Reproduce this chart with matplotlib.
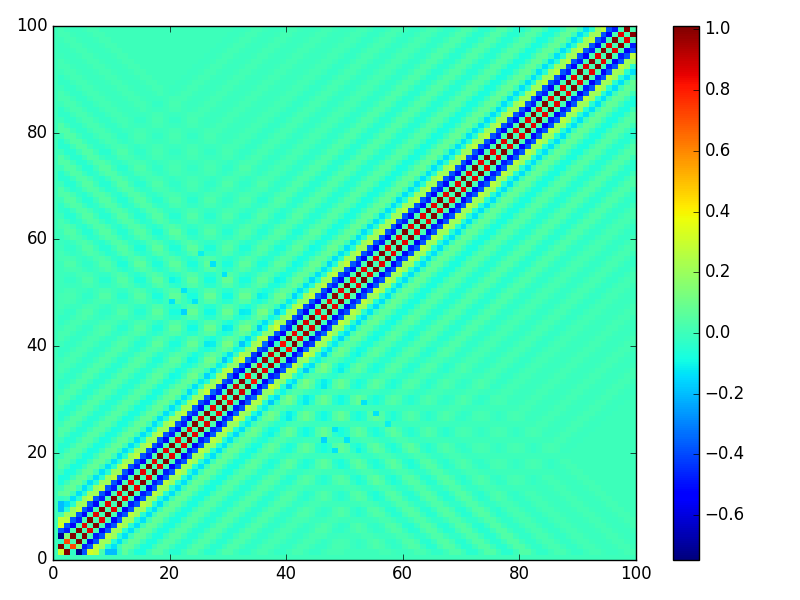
import numpy as np
import matplotlib
matplotlib.use('Agg')
import matplotlib.pyplot as plt

plt.style.use('classic')

# value on each diagonal (lag 0, 1, 2 ...)
lag_vals = [0.02, 0.93, 0.02, -0.52, -0.38, 0.24, 0.2, -0.05, -0.14, 0.0,
            0.08, 0.07, 0.0, -0.07, -0.08, 0.0, 0.05, 0.05, 0.0, -0.05,
            -0.05, 0.0, 0.04, 0.04, 0.0, -0.04, -0.04, 0.0, 0.03, 0.03,
            0.0, -0.03, -0.03, 0.0, 0.02, 0.02, 0.0, -0.02, -0.02, 0.0,
            0.02, 0.02, 0.0, -0.02, -0.02, 0.0, 0.01, 0.01, 0.0, -0.01,
            -0.01, 0.0, 0.01, 0.01, 0.0, -0.01, -0.01, 0.0, 0.01, 0.01,
            0.0, -0.01, -0.01, 0.0, 0.01, 0.01, 0.0, -0.01, -0.01, 0.0,
            0.0, 0.0, 0.0, 0.0, 0.0, 0.0, 0.0, 0.0, 0.0, 0.0,
            0.0, 0.0, 0.0, 0.0, 0.0, 0.0, 0.0, 0.0, 0.0, 0.0,
            0.0, 0.0, 0.0, 0.0, 0.0, 0.0, 0.0, 0.0, 0.0, 0.0]

# cells on a diagonal take turns between a stronger and a weaker value
alt_lags = [1, 3, 5]
alt_vals = [0.07, 0.04, 0.03]

# faint anti-diagonal stripes of the X pattern, from row + col = 50
cross_start = 50
cross_vals = [0.01, 0.01, 0.01, 0.0, -0.01, -0.01, 0.0, 0.02, 0.02, 0.0,
              -0.02, -0.02, 0.0, 0.03, 0.03, 0.0, -0.04, -0.04, 0.0, 0.04,
              0.04, 0.0, -0.04, -0.04, 0.0, 0.04, 0.04, 0.0, -0.04, -0.04,
              0.0, 0.04, 0.04, 0.0, -0.03, -0.03, 0.0, 0.02, 0.02, 0.0,
              -0.02, -0.02, 0.0, 0.01, 0.01, 0.0, -0.01, -0.01, 0.0, 0.01,
              0.01, 0.0, -0.01, -0.01, 0.0, 0.01, 0.01, 0.0]

# single darker cells (mirrored over the diagonal)
spot_cols = [53, 55, 57, 48, 46, 50, 48, 52]
spot_rows = [29, 27, 25, 24, 22, 22, 20, 20]
spot_vals = [-0.13, -0.13, -0.11, -0.13, -0.16, -0.13, -0.13, -0.1]

# odd cells in the bottom left corner (mirrored too)
corner_rows = [1, 2, 3, 4, 5, 6, 7, 8, 9, 10, 11, 12, 3, 4, 4]
corner_cols = [1, 1, 1, 1, 1, 1, 1, 1, 1, 1, 1, 1, 2, 2, 3]
corner_vals = [0.3, 1.0, -0.03, -0.72, -0.38, 0.32, 0.28, 0.02, -0.2,
               -0.2, -0.02, 0.07, 0.72, 0.15, 1.0]

n = 100
data = np.zeros((n, n))
for i in range(1, n):
    for j in range(1, n):
        lag = abs(i - j)
        data[i, j] = lag_vals[lag]
        if lag in alt_lags:
            data[i, j] += alt_vals[alt_lags.index(lag)] * (-1) ** min(i, j)
        s = i + j - cross_start
        if 0 <= s < len(cross_vals):
            data[i, j] += cross_vals[s]
for c, r, v in zip(spot_cols, spot_rows, spot_vals):
    data[r, c] = v
    data[c, r] = v
for r, c, v in zip(corner_rows, corner_cols, corner_vals):
    data[r, c] = v
    data[c, r] = v

fig = plt.figure(figsize=(8, 6), dpi=100, facecolor='white')
ax = fig.add_axes([53 / 800, 40.5 / 600, 583 / 800, 533.5 / 600])
cax = fig.add_axes([673 / 800, 40.5 / 600, 26 / 800, 533.5 / 600])

mesh = ax.pcolor(data, cmap='jet', vmin=-0.746, vmax=1.0115)
ax.set_xlim(0, 100)
ax.set_ylim(0, 100)
fig.colorbar(mesh, cax=cax, ticks=np.arange(-0.6, 1.01, 0.2))

fig.savefig('out.png', dpi=100, facecolor='white')
